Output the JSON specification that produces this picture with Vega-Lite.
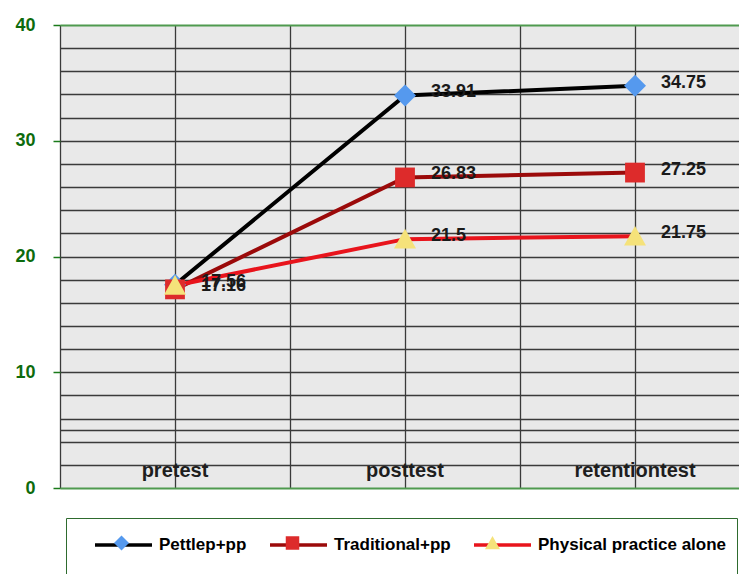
{
  "$schema": "https://vega.github.io/schema/vega-lite/v6.json",
  "width": 679,
  "height": 463,
  "autosize": {"type": "none"},
  "padding": {"left": 60, "top": 25, "right": 0, "bottom": 86},
  "background": "white",
  "config": {
    "view": {"stroke": null, "fill": "#e9e9e9"},
    "font": "Liberation Sans"
  },
  "data": {
    "values": [
      {"group": "Pettlep+pp", "test": "pretest", "value": 17.56, "label": "17.56"},
      {"group": "Pettlep+pp", "test": "posttest", "value": 33.91, "label": "33.91"},
      {"group": "Pettlep+pp", "test": "retentiontest", "value": 34.75, "label": "34.75"},
      {"group": "Traditional+pp", "test": "pretest", "value": 17.16, "label": "17.16"},
      {"group": "Traditional+pp", "test": "posttest", "value": 26.83, "label": "26.83"},
      {"group": "Traditional+pp", "test": "retentiontest", "value": 27.25, "label": "27.25"},
      {"group": "Physical practice alone", "test": "pretest", "value": 17.5, "label": ""},
      {"group": "Physical practice alone", "test": "posttest", "value": 21.5, "label": "21.5"},
      {"group": "Physical practice alone", "test": "retentiontest", "value": 21.75, "label": "21.75"}
    ]
  },
  "resolve": {"axis": {"x": "independent", "y": "independent"}},
  "layer": [
    {
      "mark": {"type": "line", "strokeWidth": 4},
      "encoding": {
        "x": {
          "field": "test", "type": "nominal", "bandPosition": 0.5,
          "sort": ["pretest", "posttest", "retentiontest"],
          "scale": {"type": "band", "domain": ["pretest", "posttest", "retentiontest"], "range": [0, 690], "paddingInner": 0, "paddingOuter": 0},
          "axis": {"orient": "top", "title": null, "labels": false, "ticks": false, "domain": true, "domainColor": "#4f9a4f", "domainWidth": 2, "grid": true, "bandPosition": 0, "gridColor": "#3a3a3a", "gridWidth": 1.3}
        },
        "y": {
          "field": "value", "type": "quantitative",
          "scale": {"domain": [0, 40], "nice": false, "zero": true},
          "axis": {"orient": "left", "title": null, "labels": false, "ticks": false, "domain": false, "grid": true, "gridColor": "#3a3a3a", "gridWidth": 1.3,
                   "values": [2, 4, 5, 6, 8, 10, 12, 14, 16, 18, 20, 22, 24, 26, 28, 30, 32, 34, 36, 38]}
        },
        "stroke": {
          "field": "group", "type": "nominal",
          "scale": {"domain": ["Pettlep+pp", "Traditional+pp", "Physical practice alone"], "range": ["#000000", "#9b0a0a", "#e8141c"]},
          "legend": {
            "orient": "none", "legendX": 6, "legendY": 493, "direction": "horizontal",
            "title": "\u00a0", "titleOrient": "bottom", "titlePadding": 5, "titleFontSize": 14,
            "padding": 10, "strokeColor": "#2e6b2e", "fillColor": "white",
            "symbolType": "M-1.9,0L1.9,0", "symbolSize": 900, "symbolStrokeWidth": 3.5, "symbolFillColor": "transparent", "symbolOffset": 30.5,
            "labelOffset": 18.5, "columnPadding": 4,
            "labelFont": "Liberation Sans", "labelFontSize": 17, "labelFontWeight": "bold", "labelColor": "#000000", "labelLimit": 400,
            "zindex": 0,
            "encode": {"legend": {"strokeWidth": {"value": 2}}}
          }
        }
      }
    },
    {
      "mark": {"type": "point", "filled": true, "opacity": 1, "size": 1936},
      "encoding": {
        "x": {
          "field": "test", "type": "nominal", "bandPosition": 0.5,
          "sort": ["pretest", "posttest", "retentiontest"],
          "axis": {"orient": "bottom", "title": null, "ticks": false, "domain": true, "domainColor": "#4f9a4f", "domainWidth": 2, "grid": true, "bandPosition": 0.5, "gridColor": "#3a3a3a", "gridWidth": 1.3,
                   "labelAngle": 0, "labelPadding": -18, "labelBaseline": "middle", "labelFontSize": 20, "labelFontWeight": "bold", "labelColor": "#1e1e1e", "labelFont": "Liberation Sans"}
        },
        "y": {
          "field": "value", "type": "quantitative",
          "axis": {"orient": "left", "title": null, "grid": false, "domain": false, "ticks": true, "tickColor": "#1a7a1a", "tickSize": 7, "tickWidth": 1.5,
                   "values": [0, 10, 20, 30, 40], "labelPadding": 18, "labelFontSize": 18, "labelFontWeight": "bold", "labelColor": "#0d6b0d", "labelFont": "Liberation Sans"}
        },
        "fill": {
          "field": "group", "type": "nominal",
          "scale": {"domain": ["Pettlep+pp", "Traditional+pp", "Physical practice alone", "~"], "range": ["#5599ee", "#dd2b2b", "#f5e27a", "#ffffff"]},
          "legend": {
            "values": ["Pettlep+pp", "Traditional+pp", "Physical practice alone"],
            "orient": "none", "legendX": 6, "legendY": 493, "direction": "horizontal",
            "title": "\u00a0", "titleOrient": "bottom", "titlePadding": 5, "titleFontSize": 14,
            "padding": 10, "strokeColor": "transparent", "fillColor": "transparent",
            "symbolSize": 900, "symbolStrokeWidth": 0, "symbolOffset": 30.5,
            "labelOffset": 18.5, "columnPadding": 4,
            "labelFont": "Liberation Sans", "labelFontSize": 17, "labelFontWeight": "bold", "labelOpacity": 0, "labelLimit": 400,
            "zindex": 1
          }
        },
        "shape": {
          "field": "group", "type": "nominal",
          "scale": {"domain": ["Pettlep+pp", "Traditional+pp", "Physical practice alone", "~"],
                    "range": ["M0,-0.5L0.5,0L0,0.5L-0.5,0Z", "M-0.45,-0.45L0.45,-0.45L0.45,0.45L-0.45,0.45Z", "M0,-0.47L0.5,0.42L-0.5,0.42Z", "circle"]},
          "legend": {
            "values": ["Pettlep+pp", "Traditional+pp", "Physical practice alone"],
            "orient": "none", "legendX": 6, "legendY": 493, "direction": "horizontal",
            "title": "\u00a0", "titleOrient": "bottom", "titlePadding": 5, "titleFontSize": 14,
            "padding": 10, "strokeColor": "transparent", "fillColor": "transparent",
            "symbolSize": 900, "symbolStrokeWidth": 0, "symbolOffset": 30.5,
            "labelOffset": 18.5, "columnPadding": 4,
            "labelFont": "Liberation Sans", "labelFontSize": 17, "labelFontWeight": "bold", "labelOpacity": 0, "labelLimit": 400,
            "zindex": 1
          }
        }
      }
    },
    {
      "mark": {"type": "text", "align": "left", "baseline": "middle", "dx": 26, "dy": -3, "fontSize": 18, "fontWeight": "bold", "font": "Liberation Sans", "color": "#1a1a1a"},
      "encoding": {
        "x": {"field": "test", "type": "nominal", "bandPosition": 0.5, "axis": null},
        "y": {"field": "value", "type": "quantitative", "axis": null},
        "text": {"field": "label"}
      }
    }
  ]
}
